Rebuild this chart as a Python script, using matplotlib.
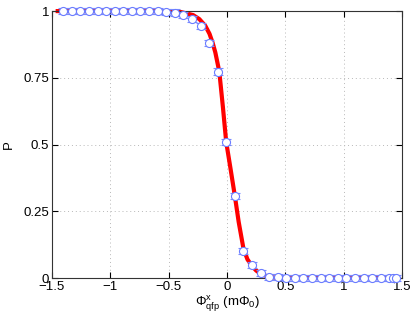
import numpy as np
import matplotlib
matplotlib.use('Agg')
import matplotlib.pyplot as plt

plt.rcParams['font.family'] = ['Liberation Sans', 'DejaVu Sans']
plt.rcParams['mathtext.fontset'] = 'custom'
plt.rcParams['mathtext.rm'] = 'Liberation Sans'
plt.rcParams['mathtext.it'] = 'Liberation Sans'

# measured points
flux = [-1.403, -1.330, -1.256, -1.183, -1.109, -1.036, -0.962, -0.889, -0.815,
        -0.742, -0.668, -0.595, -0.521, -0.448, -0.374, -0.301, -0.227, -0.154,
        -0.080, -0.007, 0.067, 0.141, 0.214, 0.288, 0.361, 0.435, 0.508, 0.582,
        0.655, 0.729, 0.802, 0.876, 0.949, 1.023, 1.096, 1.170, 1.243, 1.317,
        1.390, 1.418, 1.447]
prob = [1.0, 1.0, 1.0, 1.0, 1.0, 1.0, 1.0, 1.0, 1.0,
        1.0, 1.0, 1.0, 0.997, 0.994, 0.985, 0.970, 0.945, 0.881,
        0.773, 0.510, 0.308, 0.102, 0.049, 0.018, 0.003, 0.003, 0.0, 0.0,
        0.0, 0.0, 0.0, 0.0, 0.0, 0.0, 0.0, 0.0, 0.0, 0.0,
        0.0, 0.0, 0.0]
prob_err = [0.012] * len(prob)

# fitted curve
fit_x = [-1.45, -0.5, -0.4, -0.29, -0.237, -0.186, -0.15, -0.123, -0.1, -0.066,
         -0.035, -0.007, 0.03, 0.067, 0.1, 0.141, 0.175, 0.214, 0.25, 0.29,
         0.36, 0.45, 1.45]
fit_y = [1.0, 1.0, 0.997, 0.985, 0.97, 0.945, 0.915, 0.881, 0.845, 0.773,
         0.64, 0.51, 0.41, 0.308, 0.21, 0.11, 0.07, 0.045, 0.028, 0.015,
         0.004, 0.0, 0.0]

fig = plt.figure(figsize=(4.15, 3.17), dpi=100)
ax = fig.add_axes([0.125, 0.123, 0.844, 0.842])

ax.plot(fit_x, fit_y, '-', color='red', lw=3, zorder=2, clip_on=False)
ax.errorbar(flux, prob, yerr=prob_err, fmt='o', color='#7a8cff', ms=5.8,
            mfc='white', mec='#6a7cff', mew=0.8, elinewidth=0.8,
            capsize=3.5, capthick=0.8, zorder=3, clip_on=False)

ax.set_xlim(-1.5, 1.5)
ax.set_ylim(0, 1)
ax.set_xticks([-1.5, -1, -0.5, 0, 0.5, 1, 1.5])
ax.set_xticklabels(['\u22121.5', '\u22121', '\u22120.5', '0', '0.5', '1', '1.5'])
ax.set_yticks([0, 0.25, 0.5, 0.75, 1])
ax.set_yticklabels(['0', '0.25', '0.5', '0.75', '1'])
ax.grid(True, ls=(0, (1, 3)), color='#b8b8b8', lw=0.7)
ax.tick_params(direction='in', top=True, right=True, length=4, labelsize=9.5,
               pad=2)
for s in ax.spines.values():
    s.set_linewidth(0.8)
    s.set_color('#333333')

ax.set_xlabel(r'$\Phi^{x}_{\rm qfp}$ (m$\Phi_0$)', fontsize=9.5, labelpad=1)
ax.set_ylabel('P', fontsize=9.5, labelpad=6)

fig.savefig('out.png', dpi=100)
